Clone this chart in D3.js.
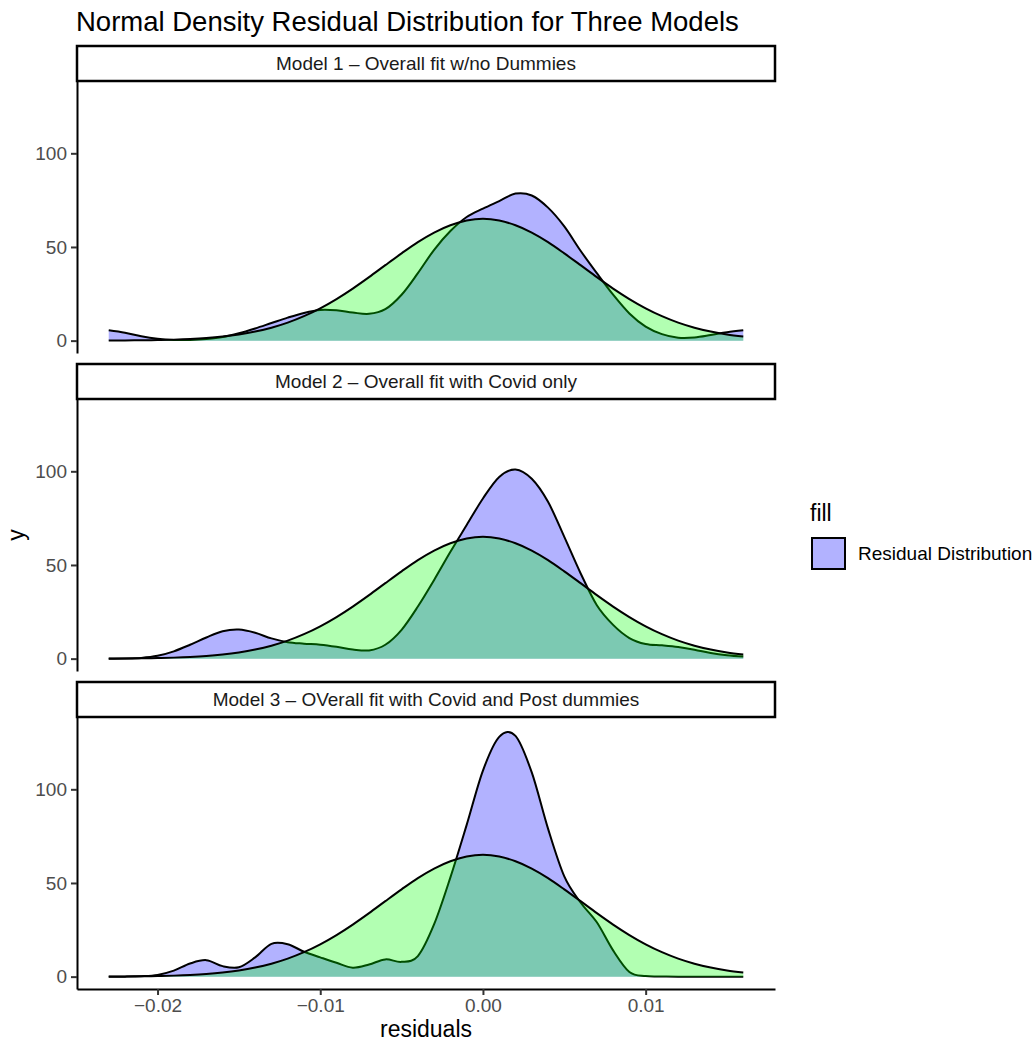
<!DOCTYPE html>
<html>
<head>
<meta charset="utf-8">
<script src="https://cdn.jsdelivr.net/npm/d3@7"></script>
<style>
  body { margin: 0; background: #fff; }
  text { font-family: "Liberation Sans", Arial, sans-serif; }
</style>
</head>
<body>
<svg id="chart"></svg>
<script>
const residualGrid = [-0.023, -0.022, -0.021, -0.020, -0.019, -0.018, -0.017, -0.016, -0.015, -0.014,
  -0.013, -0.012, -0.011, -0.010, -0.009, -0.008, -0.007, -0.006, -0.005, -0.004,
  -0.003, -0.002, -0.001, 0.000, 0.001, 0.002, 0.003, 0.004, 0.005, 0.006,
  0.007, 0.008, 0.009, 0.010, 0.011, 0.012, 0.013, 0.014, 0.015, 0.016];

// normal reference density (same in every panel)
const normalDensity = [0.06, 0.11, 0.19, 0.32, 0.54, 0.88, 1.4, 2.18, 3.29, 4.83,
  6.91, 9.62, 13.06, 17.26, 22.2, 27.8, 33.9, 40.3, 46.6, 52.6,
  57.7, 61.6, 64.1, 65.0, 64.1, 61.6, 57.7, 52.6, 46.6, 40.3,
  33.9, 27.8, 22.2, 17.26, 13.06, 9.62, 6.91, 4.83, 3.29, 2.18];

// residual kernel densities, one per model
const model1Density = [5.5, 4.2, 2.3, 1.0, 0.4, 0.4, 0.9, 1.9, 3.9, 6.5,
  9.4, 12.3, 14.8, 16.4, 16.2, 15.0, 14.3, 16.8, 24.5, 36.0,
  48.5, 58.5, 66.0, 70.5, 74.5, 78.5, 77.5, 71.0, 61.0, 48.0,
  36.0, 24.5, 14.5, 7.5, 3.5, 1.6, 1.7, 3.0, 4.5, 5.5];

const model2Density = [0.0, 0.1, 0.4, 1.5, 3.9, 7.4, 11.3, 14.6, 15.5, 13.8,
  10.8, 8.8, 8.0, 7.4, 6.3, 4.9, 4.4, 7.4, 15.4, 27.8,
  42.0, 57.0, 71.3, 85.5, 97.0, 101.0, 96.0, 83.7, 65.0, 45.6,
  28.5, 18.0, 11.0, 7.8, 7.1, 6.2, 4.8, 3.0, 1.8, 1.1];

const model3Density = [0.0, 0.0, 0.2, 0.9, 3.2, 7.0, 8.8, 5.6, 5.0, 10.3,
  17.5, 17.3, 13.3, 10.3, 7.4, 4.8, 6.5, 9.2, 7.9, 11.0,
  28.0, 53.0, 81.0, 110.0, 128.0, 128.5, 109.0, 79.0, 53.5, 39.6,
  29.0, 14.0, 2.5, 0.3, 0.1, 0.0, 0.0, 0.0, 0.0, 0.0];

const panelTitles = [
  "Model 1 \u2013 Overall fit w/no Dummies",
  "Model 2 \u2013 Overall fit with Covid only",
  "Model 3 \u2013 OVerall fit with Covid and Post dummies"
];
const xTicks = [-0.02, -0.01, 0.00, 0.01];
const yTicks = [0, 50, 100];

const width = 1035, height = 1045;
const panelLeft = 77, panelRight = 775;
const stripH = 35, panelH = 272, panelStep = 318, firstStripTop = 46;
const smallFont = "19px";

const svg = d3.select("#chart")
  .attr("width", width)
  .attr("height", height);

svg.append("rect").attr("width", width).attr("height", height).attr("fill", "#fff");

// title
svg.append("text")
  .attr("x", 76)
  .attr("y", 31)
  .style("font-size", "27.5px")
  .attr("fill", "#000")
  .text("Normal Density Residual Distribution for Three Models");

// shared scales (ggplot adds 5% padding)
const x = d3.scaleLinear()
  .domain([-0.02495, 0.01795])
  .range([panelLeft, panelRight]);

const models = [model1Density, model2Density, model3Density];

models.forEach((dens, i) => {
  const stripTop = firstStripTop + i * panelStep;
  const top = stripTop + stripH;
  const bottom = top + panelH;

  const y = d3.scaleLinear()
    .domain([-6.6, 138.6])
    .range([bottom, top]);

  const g = svg.append("g");

  const area = d3.area()
    .x((d, k) => x(residualGrid[k]))
    .y0(y(0))
    .y1(d => y(d))
    .curve(d3.curveCatmullRom.alpha(0));
  const line = d3.line()
    .x((d, k) => x(residualGrid[k]))
    .y(d => y(d))
    .curve(d3.curveCatmullRom.alpha(0));

  // residual density first, normal over it
  g.append("path").datum(dens)
    .attr("d", area)
    .attr("fill", "rgba(0,0,255,0.3)");
  g.append("path").datum(dens)
    .attr("d", line)
    .attr("fill", "none")
    .attr("stroke", "#000")
    .attr("stroke-width", 2);

  g.append("path").datum(normalDensity)
    .attr("d", area)
    .attr("fill", "rgba(0,255,0,0.3)");
  g.append("path").datum(normalDensity)
    .attr("d", line)
    .attr("fill", "none")
    .attr("stroke", "#000")
    .attr("stroke-width", 2);

  // y axis
  const yAxis = g.append("g")
    .attr("transform", `translate(${panelLeft},0)`)
    .call(d3.axisLeft(y).tickValues(yTicks).tickSize(6).tickSizeOuter(0).tickPadding(4));
  yAxis.select(".domain").attr("stroke", "#000").attr("stroke-width", 2);
  yAxis.selectAll(".tick line").attr("stroke", "#333").attr("stroke-width", 2);
  yAxis.selectAll(".tick text")
    .style("font-size", smallFont)
    .style("font-family", "'Liberation Sans', Arial, sans-serif")
    .attr("fill", "#4D4D4D");

  // facet strip
  svg.append("rect")
    .attr("x", panelLeft)
    .attr("y", stripTop)
    .attr("width", panelRight - panelLeft)
    .attr("height", stripH)
    .attr("fill", "#fff")
    .attr("stroke", "#000")
    .attr("stroke-width", 2.5);
  svg.append("text")
    .attr("x", (panelLeft + panelRight) / 2)
    .attr("y", stripTop + stripH / 2)
    .attr("dy", "0.35em")
    .attr("text-anchor", "middle")
    .style("font-size", smallFont)
    .attr("fill", "#1A1A1A")
    .text(panelTitles[i]);

  // x axis only under the last panel
  if (i === models.length - 1) {
    const xAxis = g.append("g")
      .attr("transform", `translate(0,${bottom})`)
      .call(d3.axisBottom(x).tickValues(xTicks).tickFormat(d3.format(".2f"))
        .tickSize(6).tickSizeOuter(0).tickPadding(4));
    xAxis.select(".domain").attr("stroke", "#000").attr("stroke-width", 2);
    xAxis.selectAll(".tick line").attr("stroke", "#333").attr("stroke-width", 2);
    xAxis.selectAll(".tick text")
      .style("font-size", smallFont)
      .style("font-family", "'Liberation Sans', Arial, sans-serif")
      .attr("fill", "#4D4D4D");
  }
});

// axis titles
svg.append("text")
  .attr("x", (panelLeft + panelRight) / 2)
  .attr("y", 1037)
  .attr("text-anchor", "middle")
  .style("font-size", "23px")
  .attr("fill", "#000")
  .text("residuals");

svg.append("text")
  .attr("transform", "translate(24,535) rotate(-90)")
  .attr("text-anchor", "middle")
  .style("font-size", "23px")
  .attr("fill", "#000")
  .text("y");

// legend
const legend = svg.append("g").attr("transform", "translate(810,0)");
legend.append("text")
  .attr("x", 0)
  .attr("y", 521)
  .style("font-size", "23px")
  .attr("fill", "#000")
  .text("fill");
legend.append("rect")
  .attr("x", 2)
  .attr("y", 538)
  .attr("width", 33)
  .attr("height", 31)
  .attr("fill", "rgba(0,0,255,0.3)")
  .attr("stroke", "#000")
  .attr("stroke-width", 2);
legend.append("text")
  .attr("x", 48)
  .attr("y", 553.5)
  .attr("dy", "0.35em")
  .style("font-size", smallFont)
  .attr("fill", "#000")
  .text("Residual Distribution");
</script>
</body>
</html>
